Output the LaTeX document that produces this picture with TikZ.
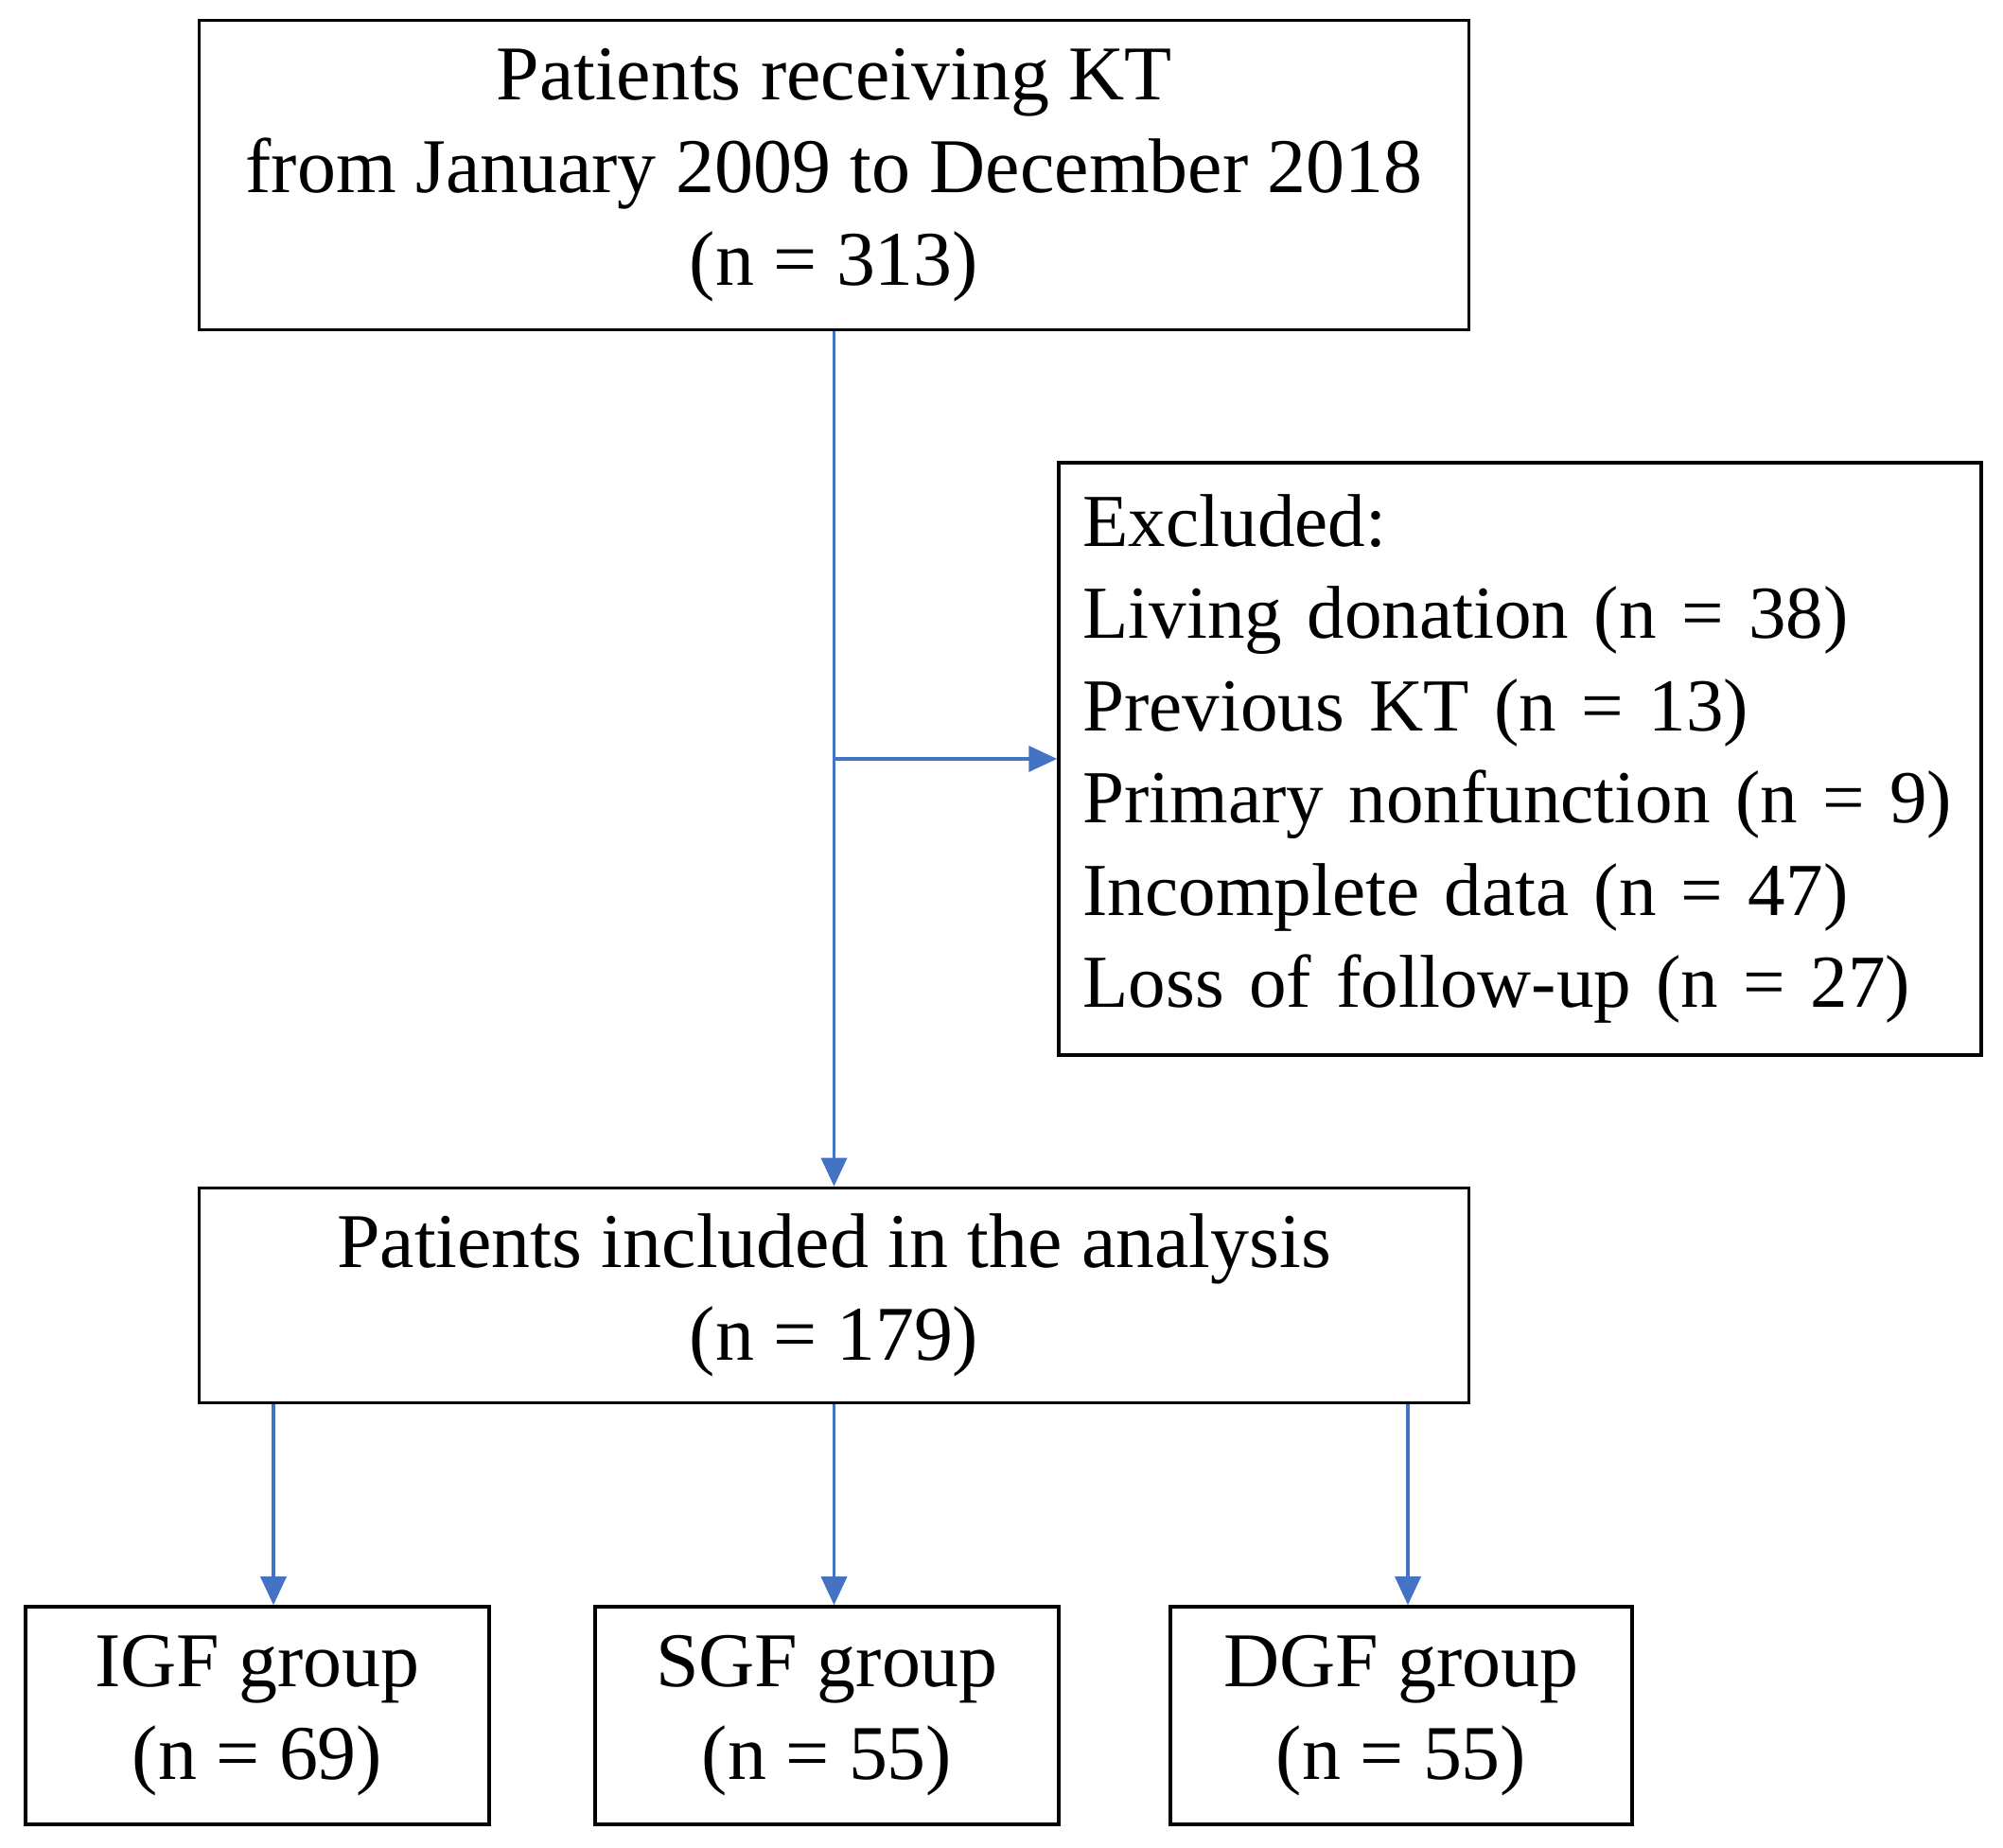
\documentclass[tikz,border=0pt]{standalone}
\usepackage{fontspec}
\setmainfont{Liberation Serif}
\usepackage{xcolor}
\usetikzlibrary{arrows.meta}
\definecolor{FCBlue}{HTML}{4472C4}
\tikzset{
  fcbox/.style={draw=black,line width=1pt,align=center,inner sep=0pt,
    font=\fontsize{23.3}{27.9}\selectfont},
  fcarrow/.style={draw=FCBlue,line width=1pt,-{Triangle[width=0.27cm,length=0.3cm]}}
}
\begin{document}
\begin{tikzpicture}[x=1cm,y=1cm]
\path[use as bounding box] (0,0) rectangle (21.17,19.52);
\node[fcbox,minimum width=13.42cm,minimum height=3.27cm] (start) at (8.815,17.67)
  {Patients receiving KT\\from January 2009 to December 2018\\(n = 313)};
\node[fcbox,align=left,text width=9.24cm,inner xsep=0.255cm,minimum height=6.26cm,
  font=\fontsize{22.5}{27.7}\selectfont] (excl) at (16.065,11.50)
  {Excluded:\\Living donation (n = 38)\\Previous KT (n = 13)\\Primary nonfunction (n = 9)\\Incomplete data (n = 47)\\Loss of follow-up (n = 27)};
\node[fcbox,minimum width=13.42cm,minimum height=2.27cm] (incl) at (8.815,5.83)
  {Patients included in the analysis\\(n = 179)};
\node[fcbox,minimum width=4.90cm,minimum height=2.30cm] (igf) at (2.72,1.39)
  {IGF group\\(n = 69)};
\node[fcbox,minimum width=4.90cm,minimum height=2.30cm] (sgf) at (8.74,1.39)
  {SGF group\\(n = 55)};
\node[fcbox,minimum width=4.88cm,minimum height=2.30cm] (dgf) at (14.81,1.39)
  {DGF group\\(n = 55)};
% main flow
\draw[fcarrow] (start.south) -- (incl.north);
\draw[fcarrow] (start.south |- excl.west) -- (excl.west);
% split into groups
\draw[fcarrow] (incl.south -| 2.89,0) -- (igf.north -| 2.89,0);
\draw[fcarrow] (incl.south) -- (sgf.north -| incl.south);
\draw[fcarrow] (incl.south -| 14.88,0) -- (dgf.north -| 14.88,0);
\end{tikzpicture}
\end{document}
